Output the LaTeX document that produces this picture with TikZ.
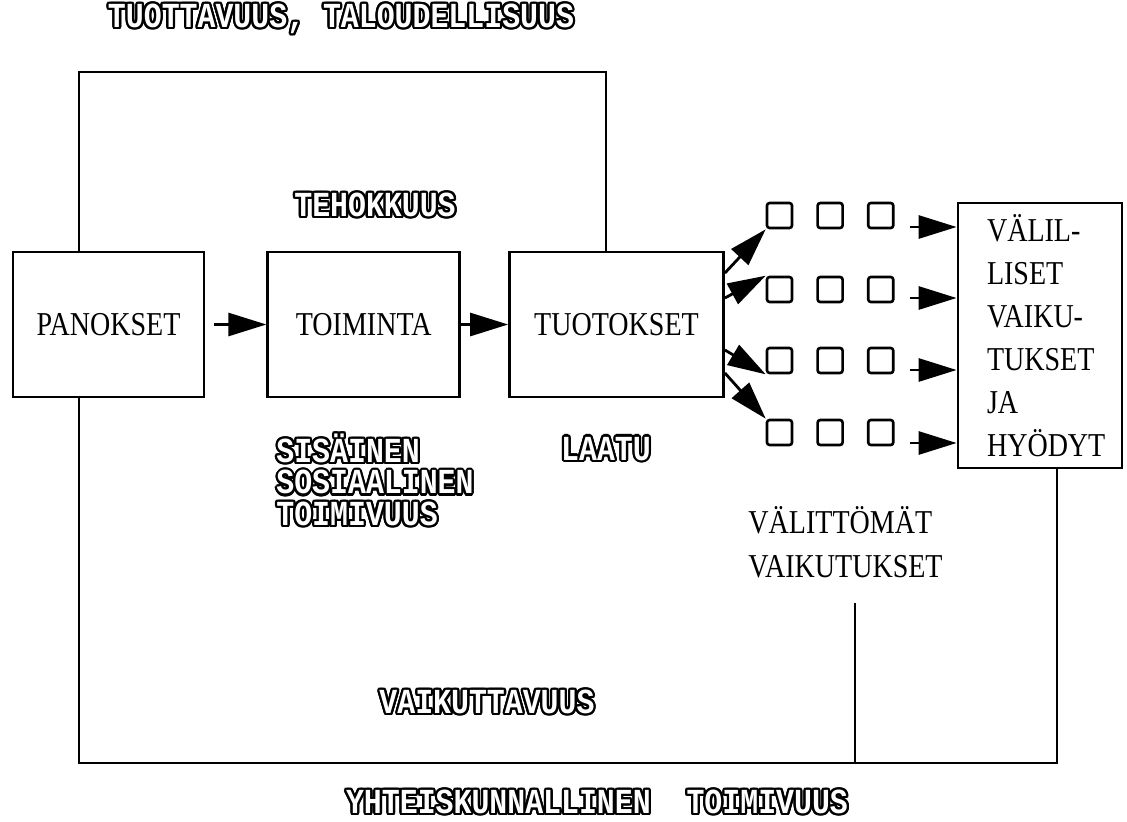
\documentclass[tikz,border=0pt]{standalone}
\usepackage{fontspec}
\setmainfont{Liberation Serif}
\newfontfamily\boxfont[FakeStretch=0.84]{Liberation Serif}
\newfontfamily\typefont[FakeStretch=0.85]{Liberation Mono}
\usepackage{xcolor}
\usepackage{contour}
\usepackage{tikz}
\usetikzlibrary{arrows.meta, positioning, calc}

\contourlength{1.3pt}
\newcommand{\hollow}[1]{\textcolor{white}{\contour{black}{#1}}}

\begin{document}
\begin{tikzpicture}[x=0.02cm, y=-0.02cm, >={Triangle[length=0.76cm, width=0.46cm]}, line width=1.6pt]
        % Styles
        \tikzset{
            mainbox/.style={draw, rectangle, minimum height=2.9cm, inner sep=0pt, font=\boxfont\fontsize{19}{22}\selectfont},
            sqbox/.style={draw, rectangle, rounded corners=1.5pt, minimum size=0.5cm, inner sep=0pt, line width=1.5pt},
            hollowtext/.style={inner sep=0pt, font=\typefont\bfseries\fontsize{20}{17.9}\selectfont},
            plaintext/.style={inner sep=0pt, align=left, font=\boxfont\fontsize{19}{25}\selectfont},
            flow/.style={->, line width=1.6pt}
        }
        \useasboundingbox (0,0) rectangle (1127,822);

        % Main chain
        \node [mainbox, minimum width=3.82cm] (panokset) at (108.5,324.5) {PANOKSET};
        \node [mainbox, minimum width=3.84cm, right=1.22cm of panokset] (toiminta) {TOIMINTA};
        \node [mainbox, minimum width=4.28cm, right=0.94cm of toiminta] (tuotokset) {TUOTOKSET};
        \node [mainbox, minimum width=3.28cm, minimum height=5.3cm, text width=2.12cm, align=left, font=\boxfont\fontsize{19}{24.4}\selectfont] (hyodyt) at (1040,335.5) {VÄLIL-\\LISET\\VAIKU-\\TUKSET\\JA\\HYÖDYT};

        % Output squares
        \node [sqbox] (s11) at (779.5,215.5) {}; \node [sqbox, right=0.46cm of s11] (s12) {}; \node [sqbox, right=0.46cm of s12] (s13) {};
        \node [sqbox] (s21) at (779.5,289.5) {}; \node [sqbox, right=0.46cm of s21] (s22) {}; \node [sqbox, right=0.46cm of s22] (s23) {};
        \node [sqbox] (s31) at (779.5,360.5) {}; \node [sqbox, right=0.46cm of s31] (s32) {}; \node [sqbox, right=0.46cm of s32] (s33) {};
        \node [sqbox] (s41) at (779.5,432.5) {}; \node [sqbox, right=0.46cm of s41] (s42) {}; \node [sqbox, right=0.46cm of s42] (s43) {};

        % Labels
        \node [hollowtext] (tuottavuus) at (341,20) {\hollow{TUOTTAVUUS, TALOUDELLISUUS}};
        \node [hollowtext] (tehokkuus) at (375,206) {\hollow{TEHOKKUUS}};
        \node [hollowtext, anchor=west, align=left] (sisainen) at (275,481) {\hollow{SISÄINEN}\\\hollow{SOSIAALINEN}\\\hollow{TOIMIVUUS}};
        \node [hollowtext] (laatu) at (606,450) {\hollow{LAATU}};
        \node [plaintext, anchor=west] (valittomat) at (747,542) {VÄLITTÖMÄT\\VAIKUTUKSET};
        \node [hollowtext] (vaikuttavuus) at (487,703) {\hollow{VAIKUTTAVUUS}};
        \node [hollowtext] (yhteiskunta) at (597,803) {\hollow{YHTEISKUNNALLINEN\ \ TOIMIVUUS}};

        % Frame corners
        \coordinate (tl) at (79,72);
        \coordinate (tr) at (606,72);
        \coordinate (bl) at (79,763);
        \coordinate (bm) at (855,763);
        \coordinate (br) at (1057,763);
        \coordinate (mtop) at (855,603);
        \coordinate (a1) at (910,227);
        \coordinate (a2) at (910,298);
        \coordinate (a3) at (910,370);
        \coordinate (a4) at (910,443);

        % Arrows
        \draw [flow, shorten <=0.18cm] (panokset) -- (toiminta);
        \draw [flow] (toiminta) -- (tuotokset);
        \draw [flow] ($(tuotokset.east)+(0,-51.5)$) -- (s11.south west);
        \draw [flow] ($(tuotokset.east)+(0,-26.5)$) -- (s21.north west);
        \draw [flow] ($(tuotokset.east)+(0,25.5)$) -- (s31.south west);
        \draw [flow] ($(tuotokset.east)+(0,48.5)$) -- (s41.north west);
        \draw [flow] (a1) -- (a1 -| hyodyt.west);
        \draw [flow] (a2) -- (a2 -| hyodyt.west);
        \draw [flow] (a3) -- (a3 -| hyodyt.west);
        \draw [flow] (a4) -- (a4 -| hyodyt.west);

        % Frame lines
        \draw (tl |- panokset.north) -- (tl) -- (tr) -- (tr |- tuotokset.north);
        \draw (bl |- panokset.south) -- (bl) -- (br) -- (br |- hyodyt.south);
        \draw (mtop) -- (bm);
    \end{tikzpicture}
\end{document}
